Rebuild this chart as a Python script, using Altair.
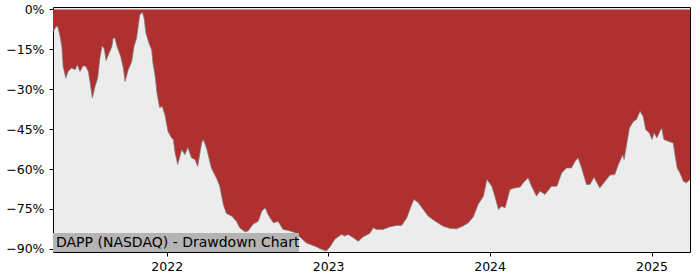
import altair as alt
import pandas as pd

dates = [
    "2021-04-19", "2021-04-26", "2021-04-30", "2021-05-05", "2021-05-09", "2021-05-12",
    "2021-05-18", "2021-05-23", "2021-05-31", "2021-06-08", "2021-06-13", "2021-06-19",
    "2021-06-26", "2021-07-02", "2021-07-08", "2021-07-12", "2021-07-17", "2021-07-23",
    "2021-07-29", "2021-08-03", "2021-08-08", "2021-08-13", "2021-08-17", "2021-08-22",
    "2021-08-30", "2021-09-02", "2021-09-06", "2021-09-11", "2021-09-19", "2021-09-25",
    "2021-09-29", "2021-10-06", "2021-10-14", "2021-10-19", "2021-10-25", "2021-10-29",
    "2021-11-01", "2021-11-07", "2021-11-11", "2021-11-15", "2021-11-22", "2021-11-28",
    "2021-12-01", "2021-12-06", "2021-12-10", "2021-12-16", "2021-12-22", "2021-12-28",
    "2022-01-04", "2022-01-12", "2022-01-16", "2022-01-20", "2022-01-26", "2022-02-04",
    "2022-02-11", "2022-02-18", "2022-02-26", "2022-03-06", "2022-03-12", "2022-03-21",
    "2022-03-25", "2022-04-01", "2022-04-12", "2022-04-24", "2022-05-01", "2022-05-09",
    "2022-05-16", "2022-05-28", "2022-06-08", "2022-06-15", "2022-06-27", "2022-07-04",
    "2022-07-15", "2022-07-27", "2022-08-04", "2022-08-12", "2022-08-18", "2022-08-30",
    "2022-09-10", "2022-09-21", "2022-10-03", "2022-10-18", "2022-11-02", "2022-11-13",
    "2022-12-02", "2022-12-17", "2022-12-28", "2023-01-05", "2023-01-16", "2023-01-31",
    "2023-02-08", "2023-02-15", "2023-02-27", "2023-03-10", "2023-03-21", "2023-04-05",
    "2023-04-13", "2023-04-20", "2023-05-05", "2023-05-21", "2023-06-05", "2023-06-16",
    "2023-06-27", "2023-07-09", "2023-07-14", "2023-07-24", "2023-08-04", "2023-08-15",
    "2023-08-31", "2023-09-18", "2023-10-03", "2023-10-18", "2023-11-02", "2023-11-14",
    "2023-11-25", "2023-12-06", "2023-12-18", "2023-12-26", "2024-01-06", "2024-01-13",
    "2024-01-21", "2024-01-28", "2024-02-05", "2024-02-16", "2024-02-27", "2024-03-10",
    "2024-03-17", "2024-03-28", "2024-04-05", "2024-04-16", "2024-04-24", "2024-05-05",
    "2024-05-20", "2024-06-01", "2024-06-12", "2024-06-23", "2024-07-04", "2024-07-12",
    "2024-07-19", "2024-07-27", "2024-08-07", "2024-08-15", "2024-08-24", "2024-09-06",
    "2024-09-18", "2024-09-29", "2024-10-10", "2024-10-18", "2024-10-28", "2024-10-31",
    "2024-11-07", "2024-11-12", "2024-11-21", "2024-11-28", "2024-12-06", "2024-12-13",
    "2024-12-19", "2024-12-27", "2025-01-02", "2025-01-07", "2025-01-13", "2025-01-20",
    "2025-01-24", "2025-01-29", "2025-02-08", "2025-02-19", "2025-02-23", "2025-02-28",
    "2025-03-06", "2025-03-14", "2025-03-21", "2025-03-29",
]

drawdown = [
    -8.4, -6.5, -6.5, -10.2, -14.0, -21.5,
    -25.8, -23.3, -22.0, -22.7, -20.8, -23.3,
    -21.2, -21.4, -23.3, -27.7, -33.3, -29.0,
    -25.8, -18.3, -13.7, -14.9, -19.2, -17.1,
    -14.0, -10.8, -10.8, -14.0, -17.7, -22.0,
    -27.1, -22.7, -19.6, -14.0, -10.8, -5.8,
    -2.1, -1.0, -3.3, -8.9, -12.7, -15.2,
    -20.2, -25.2, -31.4, -36.9, -36.5, -39.6,
    -45.8, -48.3, -48.9, -53.9, -58.3, -52.7,
    -54.6, -51.9, -55.8, -56.4, -59.0, -50.2,
    -48.9, -52.1, -59.6, -63.6, -66.5, -73.3,
    -76.7, -77.7, -79.7, -82.1, -83.6, -83.3,
    -80.8, -79.6, -75.8, -74.6, -77.1, -80.2,
    -79.7, -82.7, -83.1, -83.9, -86.1, -87.8,
    -89.0, -90.2, -90.8, -89.3, -86.4, -84.6,
    -85.2, -84.6, -85.8, -87.2, -85.5, -84.2,
    -82.1, -82.7, -82.7, -81.7, -81.2, -81.2,
    -78.6, -73.3, -71.4, -72.7, -75.2, -77.7,
    -79.6, -81.5, -82.3, -82.5, -81.4, -80.2,
    -78.0, -73.3, -70.2, -63.9, -66.5, -70.3,
    -75.2, -74.0, -74.6, -67.7, -67.1, -66.8,
    -65.2, -63.3, -66.5, -70.2, -68.3, -69.6,
    -66.5, -66.5, -61.4, -59.6, -59.6, -57.2,
    -55.8, -59.6, -65.8, -65.8, -63.1, -67.1,
    -64.6, -62.3, -62.1, -58.3, -54.6, -56.4,
    -49.6, -44.6, -42.1, -41.4, -38.3, -40.2,
    -45.2, -46.4, -48.9, -46.4, -48.3, -45.8,
    -44.6, -48.9, -49.6, -50.2, -54.6, -59.6,
    -61.4, -64.6, -65.2, -63.9,
]

y_ticks = [0, -15, -30, -45, -60, -75, -90]
year_ticks = [2022, 2023, 2024, 2025]
title_text = "DAPP (NASDAQ) - Drawdown Chart"

df = pd.DataFrame({"date": dates, "dd": drawdown})

x_enc = alt.X(
    "date:T",
    scale=alt.Scale(
        type="utc",
        domain=[alt.DateTime(year=2021, month=4, date=19, utc=True),
                alt.DateTime(year=2025, month=3, date=29, utc=True)],
        nice=False,
    ),
    axis=alt.Axis(
        values=[alt.DateTime(year=y, month=1, date=1, utc=True) for y in year_ticks],
        labelExpr="utcFormat(datum.value, '%Y')",
        title=None, grid=False, domain=False, tickColor="black", tickSize=4,
        labelPadding=4, labelFont="DejaVu Sans", labelFontSize=12.5, labelColor="black",
    ),
)
y_enc = alt.Y(
    "dd:Q",
    scale=alt.Scale(domain=[-91.2, 0.9], nice=False, zero=False),
    axis=alt.Axis(
        values=y_ticks,
        labelExpr="format(datum.value, 'd') + '%'",
        title=None, grid=False, domain=False, tickColor="black", tickSize=4,
        labelPadding=5, labelFont="DejaVu Sans", labelFontSize=12.5, labelColor="black",
    ),
)

base = alt.Chart(df)
area = base.mark_area(color="#b03030", opacity=1).encode(x=x_enc, y=y_enc, y2=alt.value(0))
edge = base.mark_line(color="#7a7a7a", strokeWidth=0.9, opacity=0.8).encode(x="date:T", y="dd:Q")

label_df = pd.DataFrame({"t": [title_text]})
box = alt.Chart(label_df).mark_rect(color="#b4b4b4").encode(
    x=alt.value(0), x2=alt.value(246), y=alt.value(226), y2=alt.value(245)
)
txt = alt.Chart(label_df).mark_text(
    align="left", baseline="middle", font="DejaVu Sans", fontSize=14, color="black"
).encode(text="t:N", x=alt.value(3), y=alt.value(236))

chart = (
    alt.layer(area, edge, box, txt)
    .properties(width=637, height=245, autosize=alt.AutoSizeParams(type="none"),
                padding={"left": 53, "top": 7, "right": 10, "bottom": 28},
                background="white")
    .configure_view(fill="#ececec", stroke="black", strokeWidth=1)
)

chart.save("out.html", embed_options={"renderer": "svg", "actions": False})
